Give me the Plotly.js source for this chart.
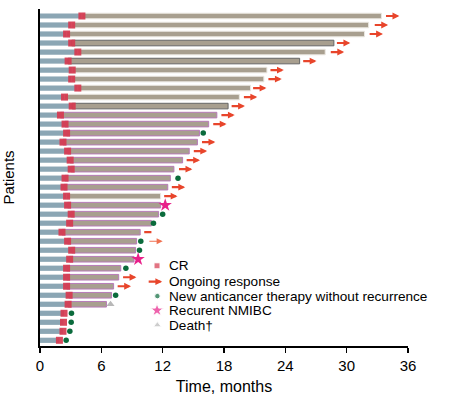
<!DOCTYPE html>
<html>
<head>
<meta charset="utf-8">
<script src="https://cdn.plot.ly/plotly-3.0.1.min.js"></script>
<style>html,body{margin:0;padding:0;background:#fff}#chart{width:450px;height:398px}</style>
</head>
<body>
<div id="chart"></div>
<script>
// ---- data (patients numbered top to bottom) ----
const patients = [1,2,3,4,5,6,7,8,9,10,11,12,13,14,15,16,17,18,19,20,21,22,23,24,25,26,27,28,29,30,31,32,33,34,35,36,37];
const crMonths = [4.1,3.1,2.6,3.1,3.7,2.75,3.15,3.1,3.7,2.4,3.15,2.0,2.45,2.6,2.25,2.7,2.95,3.05,2.45,2.35,2.6,2.7,3.05,2.9,2.15,2.7,3.1,2.9,2.6,2.6,2.6,2.85,2.75,2.35,2.3,2.25,1.9];
const responseEndMonths = [33.4,32.15,31.75,28.75,27.9,25.4,22.2,21.9,20.6,19.5,18.4,17.3,16.5,15.6,15.4,14.6,13.95,13.1,12.75,12.5,11.8,11.8,11.6,10.9,9.8,9.45,9.35,9.2,7.9,7.7,7.2,7.0,6.5,null,null,null,null];

const ongoingRows = [1,2,3,4,5,6,7,8,9,10,11,12,13,15,16,17,18,20,21,25,26,30,31];
const ongoingStartMonths = [33.7,32.6,32.1,28.9,28.3,25.6,22.4,22.2,20.7,19.8,18.6,17.6,16.8,15.7,14.9,14.2,13.45,12.75,12.0,10.05,10.55,7.98,7.45];

const newTherapyRows = [14,19,23,24,26,27,29,32,34,35,36,37];
const newTherapyMonths = [15.97,13.5,12.0,11.1,9.86,9.73,8.4,7.4,3.08,3.05,2.92,2.56];

const recurrenceRows = [22,28];
const recurrenceMonths = [12.25,9.6];

const deathRows = [33];
const deathMonths = [6.9];

const xTicks = [0,6,12,18,24,30,36];
const legendLabels = ['CR','Ongoing response','New anticancer therapy without recurrence','Recurent NMIBC','Death\u2020'];

// ---- styles ----
const FONT = 'Liberation Sans, Arial, Helvetica, sans-serif';
const C_BLUE = '#8ba6b4', C_TAN = '#a89f8f', C_CR = '#d63a50', C_ARROW = '#e8452b',
      C_GREEN = '#0b6b3c', C_STAR = '#e8208a', C_DEATH = '#b8b8b8';
const darkOutline = [4,6,11], lightOutline = [1,2,3,5,7,8,9,10,21];
const ARROW_LEN = 1.45;

const tanRows = [], tanBase = [], tanLen = [], tanLine = [];
patients.forEach((p,i)=>{
  if (responseEndMonths[i] == null) return;
  tanRows.push(p); tanBase.push(crMonths[i]); tanLen.push(responseEndMonths[i]-crMonths[i]);
  tanLine.push(darkOutline.includes(p) ? '#666666' : (lightOutline.includes(p) ? '#ebe8e2' : '#b77bb8'));
});

const traces = [
  {type:'bar', orientation:'h', y:patients, x:crMonths, base:0, width:0.58,
   marker:{color:C_BLUE, line:{width:0}}, hoverinfo:'skip', showlegend:false},
  {type:'bar', orientation:'h', y:tanRows, x:tanLen, base:tanBase, width:0.62,
   marker:{color:C_TAN, line:{color:tanLine, width:1}}, hoverinfo:'skip', showlegend:false},
  {type:'scatter', mode:'markers', y:patients, x:crMonths,
   marker:{symbol:'square', size:7, color:C_CR, opacity:0.92}, showlegend:false},
  {type:'scatter', mode:'markers', y:newTherapyRows, x:newTherapyMonths,
   marker:{symbol:'circle', size:5.5, color:C_GREEN}, showlegend:false},
  {type:'scatter', mode:'markers', y:recurrenceRows, x:recurrenceMonths,
   marker:{symbol:'star', size:10, color:C_STAR}, showlegend:false},
  {type:'scatter', mode:'markers', y:deathRows, x:deathMonths,
   marker:{symbol:'triangle-up', size:7, color:C_DEATH}, showlegend:false},
  // legend symbols (overlay axes in plot-fraction units)
  {type:'scatter', mode:'markers', xaxis:'x2', yaxis:'y2',
   x:[0.318,0.319,0.318,0.319], y:[0.238,0.148,0.106,0.062],
   marker:{symbol:['square','circle','star','triangle-up'], size:[6,5.5,10,7], color:[C_CR,C_GREEN,C_STAR,C_DEATH]},
   showlegend:false, hoverinfo:'skip'}
];

const annotations = [];
ongoingRows.forEach((p,i)=>{
  const s = ongoingStartMonths[i];
  const isDash = (p===25), isThin = (p===26);
  const len = isDash ? 0.85 : ARROW_LEN;
  annotations.push({x:s+len, y:p, ax:s, ay:p, xref:'x', yref:'y', axref:'x', ayref:'y',
    text:'', showarrow:true, arrowhead:isDash?0:2, arrowsize:isThin?1.1:0.62,
    arrowwidth:isThin?1.1:2.2, arrowcolor:isThin?'#f07050':C_ARROW});
});
// legend arrow + labels
annotations.push({x:0.332, y:0.191, xref:'paper', yref:'paper', ax:-15, ay:0, text:'',
  showarrow:true, arrowhead:2, arrowsize:0.62, arrowwidth:2.2, arrowcolor:C_ARROW});
const legendY = [0.238,0.191,0.148,0.106,0.062];
legendLabels.forEach((t,i)=>annotations.push({x:0.347, y:legendY[i], xref:'paper', yref:'paper',
  xanchor:'left', yanchor:'middle', text:t, showarrow:false, borderpad:0,
  font:{size:13.6, color:'#000', family:FONT}}));

const layout = {
  width:450, height:398,
  margin:{l:40, r:42, t:9, b:52},
  paper_bgcolor:'#fff', plot_bgcolor:'#fff',
  barmode:'overlay', showlegend:false,
  font:{family:FONT, color:'#000'},
  xaxis:{range:[0,36], tickvals:xTicks, ticktext:xTicks.map(String), ticks:'outside', ticklen:5, tickwidth:1.5,
    tickcolor:'#000', showline:true, linecolor:'#000', linewidth:2, showgrid:false, zeroline:false,
    tickfont:{size:15}, title:{text:'Time, months', font:{size:16}, standoff:8}},
  yaxis:{range:[37.633,0.223], showline:true, linecolor:'#000', linewidth:2, showticklabels:false, ticks:'',
    showgrid:false, zeroline:false, title:{text:'Patients', font:{size:15}, standoff:21}},
  xaxis2:{overlaying:'x', range:[0,1], visible:false},
  yaxis2:{overlaying:'y', range:[0,1], visible:false},
  annotations:annotations
};
Plotly.newPlot('chart', traces, layout, {displayModeBar:false, staticPlot:true});
</script>
</body>
</html>
